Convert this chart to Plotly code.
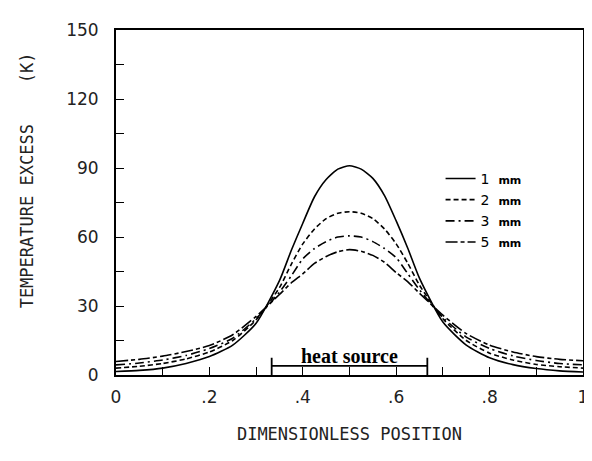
import plotly.graph_objects as go

x = [0, 0.05, 0.1, 0.15, 0.2, 0.25, 0.3, 0.35, 0.375, 0.4, 0.425, 0.45, 0.475, 0.5,
     0.525, 0.55, 0.575, 0.6, 0.625, 0.65, 0.7, 0.75, 0.8, 0.85, 0.9, 0.95, 1.0]

t_1mm = [1.5, 2.0, 3.0, 5.0, 8.0, 13, 22.5, 41, 54, 66, 77.5, 85, 89.5, 91,
         89.5, 85.5, 78, 67, 55, 42, 23, 13, 7.5, 4.5, 2.8, 1.8, 1.3]
t_2mm = [3.0, 3.8, 5.0, 7.0, 10, 15, 24, 38, 48, 57, 63.5, 68, 70.3, 71,
         70.3, 68, 63.5, 57, 48.5, 39, 24.5, 15, 9.5, 6.5, 4.6, 3.6, 3.0]
t_3mm = [4.4, 5.2, 6.5, 8.5, 11.5, 16, 24.5, 36, 43, 50.5, 55, 58, 60, 60.5,
         60, 58, 55, 51, 44, 37, 25, 16.5, 11.5, 8.3, 6.3, 5.0, 4.4]
t_5mm = [5.9, 6.8, 8.2, 10.2, 12.8, 17.5, 25.5, 35, 40, 44, 48.5, 51.5, 53.6, 54.5,
         53.8, 52, 49, 44.5, 40.5, 35.5, 26, 18, 13, 10, 8.0, 6.8, 6.2]

series_names = ["1  <b><span style='font-size:11px'>mm</span></b>",
                "2  <b><span style='font-size:11px'>mm</span></b>",
                "3  <b><span style='font-size:11px'>mm</span></b>",
                "5  <b><span style='font-size:11px'>mm</span></b>"]
series_dash = ["solid", "5px,3px", "9px,4px,2px,4px", "12px,3px,4px,3px"]

heat_start, heat_end = 1/3, 2/3
heat_level = 4
heat_tick_top = 7.5
heat_label = "heat source"

x_tickvals = [0, 0.2, 0.4, 0.6, 0.8, 1.0]
x_ticktext = ["0", ".2", ".4", ".6", ".8", "1"]
y_tickvals = [0, 30, 60, 90, 120, 150]

x_title = "DIMENSIONLESS POSITION"
y_title = "TEMPERATURE EXCESS    (K)"

fig = go.Figure()
for vals, name, dash in zip([t_1mm, t_2mm, t_3mm, t_5mm], series_names, series_dash):
    fig.add_trace(go.Scatter(x=x, y=vals, mode="lines", name=name,
                             line=dict(color="black", width=1.6, dash=dash,
                                       shape="spline", smoothing=0.6)))

# heat source bracket
fig.add_shape(type="line", x0=heat_start, x1=heat_end, y0=heat_level, y1=heat_level,
              line=dict(color="black", width=1.8))
for xb in (heat_start, heat_end):
    fig.add_shape(type="line", x0=xb, x1=xb, y0=0, y1=heat_tick_top,
                  line=dict(color="black", width=1.8))
fig.add_annotation(x=(heat_start + heat_end) / 2, y=heat_level, text="<b>" + heat_label + "</b>",
                   showarrow=False, yanchor="bottom", yshift=-3,
                   font=dict(family="Liberation Serif", size=20, color="black"))

# y-axis title placed as rotated annotation (sits a bit above plot centre as in the original)
title_font = dict(family="DejaVu Sans Mono", size=17, color="#222")
fig.add_annotation(xref="paper", yref="paper", x=-0.19, y=0.565, text=y_title,
                   textangle=-90, showarrow=False, xanchor="center", yanchor="middle",
                   font=title_font)

tick_font = dict(family="DejaVu Sans", size=17, color="#222")
fig.update_layout(
    width=592, height=461,
    margin=dict(l=108, r=15, t=18, b=94),
    paper_bgcolor="white", plot_bgcolor="white",
    font=dict(family="DejaVu Sans", color="black"),
    showlegend=True,
    legend=dict(x=0.695, y=0.615, xanchor="left", yanchor="top", bgcolor="rgba(0,0,0,0)",
                font=dict(family="DejaVu Sans", size=14, color="black"),
                tracegroupgap=0),
    xaxis=dict(range=[0, 1], tickvals=x_tickvals, ticktext=x_ticktext,
               ticks="inside", ticklen=8, tickcolor="black", tickwidth=1.3,
               minor=dict(dtick=0.1, ticks="inside", ticklen=8, tickcolor="black", tickwidth=1.3),
               showline=True, linecolor="black", linewidth=2, mirror=True,
               showgrid=False, zeroline=False, tickfont=tick_font, ticklabelstandoff=6,
               title=dict(text=x_title, font=title_font, standoff=22)),
    yaxis=dict(range=[0, 150], tickvals=y_tickvals,
               ticks="inside", ticklen=8, tickcolor="black", tickwidth=1.3,
               minor=dict(dtick=15, ticks="inside", ticklen=8, tickcolor="black", tickwidth=1.3),
               showline=True, linecolor="black", linewidth=2, mirror=True,
               showgrid=False, zeroline=False, tickfont=tick_font, ticklabelstandoff=12),
)

fig.write_html("out.html")
